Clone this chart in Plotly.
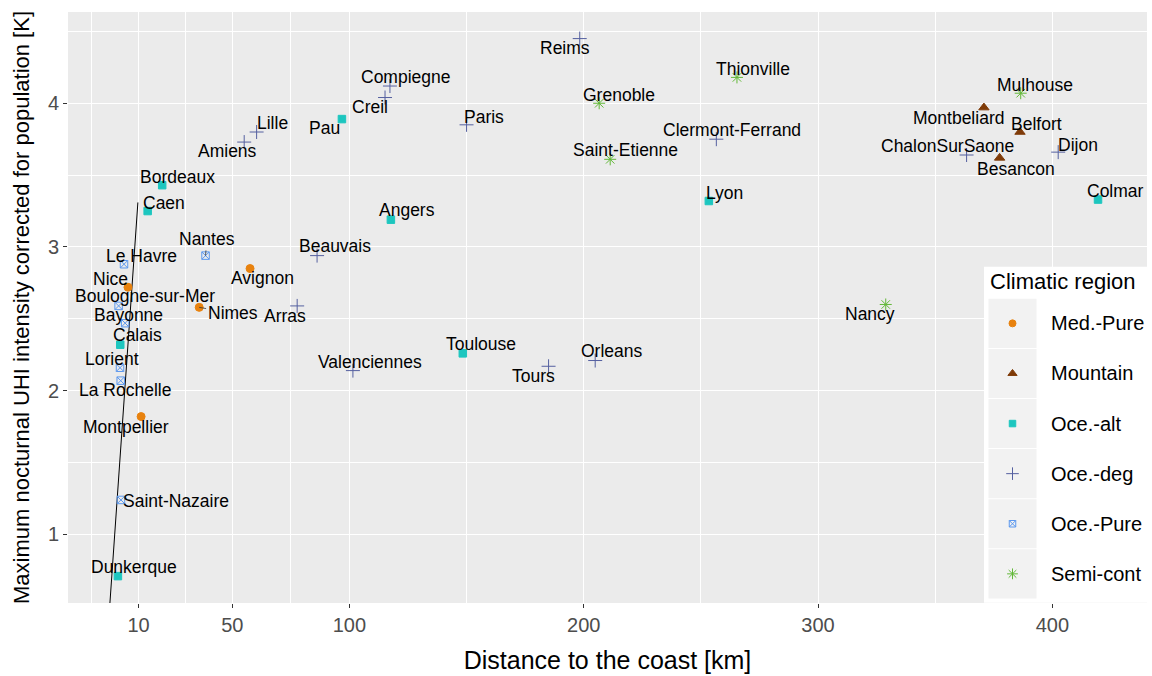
import plotly.graph_objects as go

# ---------------- data ----------------
cities = ["Bordeaux", "Caen", "Nantes", "Le Havre", "Nice", "Boulogne-sur-Mer", "Bayonne",
          "Calais", "Lorient", "La Rochelle", "Montpellier", "Saint-Nazaire", "Dunkerque",
          "Avignon", "Nimes", "Arras", "Beauvais", "Compiegne", "Creil", "Pau", "Paris",
          "Lille", "Amiens", "Angers", "Reims", "Thionville", "Grenoble", "Clermont-Ferrand",
          "Saint-Etienne", "Lyon", "Mulhouse", "Montbeliard", "Belfort", "ChalonSurSaone",
          "Dijon", "Besancon", "Colmar", "Toulouse", "Valenciennes", "Tours", "Orleans", "Nancy"]
distance_km = [20.1, 13.9, 38.6, 3.8, 5.5, 1.5, 4.3,
               2.2, 2.1, 2.4, 11.1, 2.5, 1.2,
               57.6, 35.9, 77.7, 86.2, 117.3, 115.2, 96.8, 150.0,
               60.4, 55.1, 117.7, 198.3, 265.4, 206.6, 256.6,
               211.3, 253.4, 386.5, 370.8, 386.2, 363.4,
               402.5, 377.5, 419.5, 148.4, 101.5, 185.0, 204.9, 328.9]
uhi_K = [3.43, 3.25, 2.94, 2.88, 2.72, 2.59, 2.47,
         2.32, 2.16, 2.07, 1.82, 1.24, 0.71,
         2.85, 2.58, 2.59, 2.94, 4.12, 4.04, 3.89, 3.85,
         3.80, 3.73, 3.19, 4.45, 4.18, 4.00, 3.75,
         3.61, 3.32, 4.07, 3.97, 3.80, 3.64,
         3.66, 3.62, 3.33, 2.26, 2.14, 2.17, 2.21, 2.60]
region = ["Oce.-alt", "Oce.-alt", "Oce.-Pure", "Oce.-Pure", "Med.-Pure", "Oce.-Pure", "Oce.-Pure",
          "Oce.-alt", "Oce.-Pure", "Oce.-Pure", "Med.-Pure", "Oce.-Pure", "Oce.-alt",
          "Med.-Pure", "Med.-Pure", "Oce.-deg", "Oce.-deg", "Oce.-deg", "Oce.-deg", "Oce.-alt", "Oce.-deg",
          "Oce.-deg", "Oce.-deg", "Oce.-alt", "Oce.-deg", "Semi-cont", "Semi-cont", "Oce.-deg",
          "Semi-cont", "Oce.-alt", "Semi-cont", "Mountain", "Mountain", "Oce.-deg",
          "Oce.-deg", "Mountain", "Oce.-alt", "Oce.-alt", "Oce.-deg", "Oce.-deg", "Oce.-deg", "Semi-cont"]
regions = ["Med.-Pure", "Mountain", "Oce.-alt", "Oce.-deg", "Oce.-Pure", "Semi-cont"]

# fitted line (two end points)
fit_x = [-2.74, 9.73]
fit_y = [0.40, 3.31]

x_ticks = [10, 50, 100, 200, 300, 400]
x_minor = [-10, 30, 75, 150, 250, 350]
y_ticks = [1, 2, 3, 4]
y_minor = [1.5, 2.5, 3.5, 4.5]

# ---------------- styles ----------------
colors = {"Med.-Pure": "#E8820E", "Mountain": "#7F3B08", "Oce.-alt": "#1DC6BF",
          "Oce.-deg": "#5560A0", "Oce.-Pure": "#5C98EE", "Semi-cont": "#62B838"}
symbols = {"Med.-Pure": "circle", "Mountain": "triangle-up", "Oce.-alt": "square",
           "Oce.-deg": "cross-thin-open", "Oce.-Pure": "square-x-open", "Semi-cont": "asterisk-open"}
msize = {"Med.-Pure": 8, "Mountain": 9, "Oce.-alt": 7.5, "Oce.-deg": 10, "Oce.-Pure": 7.5, "Semi-cont": 10}

# label offsets in pixels (dx, dy) and whether a segment is drawn
label_offset = {
    "Bordeaux": (15, -8.4), "Caen": (16.3, -8.3), "Nantes": (1.3, -16.7), "Le Havre": (17, -8.7),
    "Nice": (-17.7, -8.7), "Boulogne-sur-Mer": (26.6, -10), "Bayonne": (3, -8), "Calais": (17.4, -9.6),
    "Lorient": (-8.3, -9), "La Rochelle": (4.3, 9.3), "Montpellier": (-15.6, 10.1),
    "Saint-Nazaire": (55, 0.7), "Dunkerque": (16, -9.6), "Avignon": (12.1, 9.3), "Nimes": (33.4, 5.8),
    "Arras": (-12.6, 9.6), "Beauvais": (17.5, -9.3), "Compiegne": (16, -9.3), "Creil": (-15, 9.7),
    "Pau": (-17.7, 9), "Paris": (17.3, -8.3), "Lille": (16.3, -9.4), "Amiens": (-16.3, 8.7),
    "Angers": (16, -9.7), "Reims": (-15, 9.7), "Thionville": (16.3, -8.7), "Grenoble": (19.4, -8.6),
    "Clermont-Ferrand": (15.7, -9), "Saint-Etienne": (15.7, -9.3), "Lyon": (15.7, -8.3),
    "Mulhouse": (14.6, -8), "Montbeliard": (-25, 10.7), "Belfort": (16, -8),
    "ChalonSurSaone": (-19, -9.4), "Dijon": (19.7, -7.3), "Besancon": (16.6, 10.8),
    "Colmar": (17, -8.6), "Toulouse": (17.7, -9), "Valenciennes": (17.3, -9), "Tours": (-15.4, 9.6),
    "Orleans": (16.4, -9.3), "Nancy": (-15.7, 10),
}
with_segment = {"Nantes", "Nimes", "Calais", "Beauvais"}

FONT = "Liberation Sans, Arial, sans-serif"
W, H = 1152, 676
ML, MR, MT, MB = 68, 5, 12, 73

fig = go.Figure()

# fitted line
fig.add_trace(go.Scatter(x=fit_x, y=fit_y, mode="lines", line=dict(color="black", width=1),
                         showlegend=False, hoverinfo="skip"))

# points
for r in regions:
    idx = [i for i, g in enumerate(region) if g == r]
    fig.add_trace(go.Scatter(
        x=[distance_km[i] for i in idx], y=[uhi_K[i] for i in idx],
        text=[cities[i] for i in idx], mode="markers", name=r, showlegend=False,
        marker=dict(symbol=symbols[r], size=msize[r], color=colors[r],
                    line=dict(color=colors[r], width=1)),
    ))

annotations = []
for c, xv, yv in zip(cities, distance_km, uhi_K):
    dx, dy = label_offset[c]
    seg = c in with_segment
    annotations.append(dict(
        x=xv, y=yv, xref="x", yref="y", text=c, showarrow=True, ax=dx, ay=dy,
        arrowhead=0, arrowwidth=0.8, standoff=0,
        arrowcolor="#333333" if seg else "rgba(0,0,0,0)",
        font=dict(family=FONT, size=17.5, color="black"),
    ))

# ---------------- manual legend (pixel coordinate overlay axes) ----------------
box_l, box_r, box_t, box_b = 984, 1147, 266.7, 602.7
key_l, key_r, key_t, key_h = 988, 1037, 298.3, 50.1


def rect(x0, x1, y0, y1, col):
    return go.Scatter(x=[x0, x1, x1, x0, x0], y=[y0, y0, y1, y1, y0], xaxis="x2", yaxis="y2",
                      mode="lines", fill="toself", fillcolor=col, line=dict(width=0),
                      showlegend=False, hoverinfo="skip")


fig.add_trace(rect(box_l, box_r, box_t, box_b, "white"))
for i, r in enumerate(regions):
    y0 = key_t + i * key_h
    fig.add_trace(rect(key_l + 0.5, key_r - 0.5, y0 + 0.5, y0 + key_h - 0.5, "#F2F2F2"))
    fig.add_trace(go.Scatter(
        x=[(key_l + key_r) / 2], y=[y0 + key_h / 2], xaxis="x2", yaxis="y2", mode="markers",
        marker=dict(symbol=symbols[r], size=msize[r] - 1, color=colors[r],
                    line=dict(color=colors[r], width=1)),
        showlegend=False, hoverinfo="skip"))
    annotations.append(dict(x=1049, y=y0 + key_h / 2, xref="x2", yref="y2", text=r,
                            showarrow=False, xanchor="left", yanchor="middle",
                            font=dict(family=FONT, size=20, color="black")))
annotations.append(dict(x=988, y=281, xref="x2", yref="y2", text="Climatic region",
                        showarrow=False, xanchor="left", yanchor="middle",
                        font=dict(family=FONT, size=22, color="black")))

fig.update_layout(
    width=W, height=H,
    margin=dict(l=ML, r=MR, t=MT, b=MB, pad=0),
    paper_bgcolor="white", plot_bgcolor="#EBEBEB",
    font=dict(family=FONT),
    showlegend=False,
    annotations=annotations,
    xaxis=dict(range=[-20.1, 440.4], tickvals=x_ticks, ticktext=[str(v) for v in x_ticks],
               showgrid=True, gridcolor="white", gridwidth=1.2, zeroline=False,
               ticks="outside", ticklen=4, tickcolor="#333333", tickwidth=1,
               tickfont=dict(family=FONT, size=20, color="#4D4D4D"),
               minor=dict(tickvals=x_minor, showgrid=True, gridcolor="white", gridwidth=0.6, ticks=""),
               title=dict(text="Distance to the coast [km]", standoff=16,
                          font=dict(family=FONT, size=25, color="black")),
               automargin=False, showline=False, fixedrange=True),
    yaxis=dict(range=[0.523, 4.635], tickvals=y_ticks, ticktext=[str(v) for v in y_ticks],
               showgrid=True, gridcolor="white", gridwidth=1.2, zeroline=False,
               ticks="outside", ticklen=4, tickcolor="#333333", tickwidth=1,
               tickfont=dict(family=FONT, size=20, color="#4D4D4D"),
               minor=dict(tickvals=y_minor, showgrid=True, gridcolor="white", gridwidth=0.6, ticks=""),
               title=dict(text="Maximum nocturnal UHI intensity corrected for population [K]",
                          standoff=12, font=dict(family=FONT, size=22, color="black")),
               automargin=False, showline=False, fixedrange=True),
    xaxis2=dict(range=[ML, W - MR], overlaying="x", visible=False, fixedrange=True),
    yaxis2=dict(range=[H - MB, MT], overlaying="y", visible=False, fixedrange=True),
)

fig.write_html("out.html", config={"displayModeBar": False},
               post_script="document.body.style.margin='0';document.body.style.overflow='hidden';")
